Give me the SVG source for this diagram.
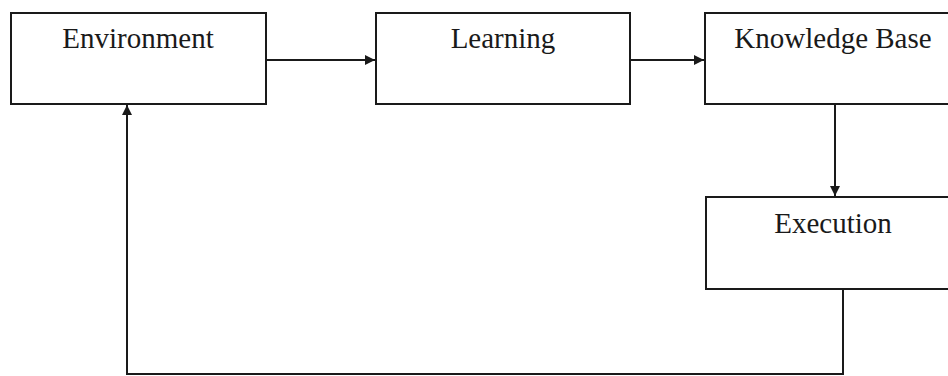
<svg xmlns="http://www.w3.org/2000/svg" width="948" height="376" viewBox="0 0 948 376">
  <style>
    .box { fill: #ffffff; stroke: #1a1a1a; stroke-width: 2; }
    .label { font-family: "Liberation Serif", "Times New Roman", serif; font-size: 29px; fill: #1a1a1a; text-anchor: middle; }
    .wire { fill: none; stroke: #1a1a1a; stroke-width: 2; }
  </style>
  <defs>
    <marker id="arrow" viewBox="0 0 10 10" refX="10" refY="5" markerWidth="6" markerHeight="5" markerUnits="strokeWidth" orient="auto">
      <path d="M0,0 L10,5 L0,10 z" fill="#1a1a1a"/>
    </marker>
  </defs>
  <rect width="948" height="376" fill="#ffffff"/>

  <g id="environment">
    <rect class="box" x="11" y="13" width="255" height="91"/>
    <text class="label" x="138" y="48">Environment</text>
  </g>
  <g id="learning">
    <rect class="box" x="376" y="13" width="254" height="91"/>
    <text class="label" x="503" y="48">Learning</text>
  </g>
  <g id="knowledge-base">
    <rect class="box" x="705" y="13" width="260" height="91"/>
    <text class="label" x="833" y="48">Knowledge Base</text>
  </g>
  <g id="execution">
    <rect class="box" x="706" y="197" width="260" height="92"/>
    <text class="label" x="833" y="233">Execution</text>
  </g>

  <g id="connectors">
    <line class="wire" x1="266" y1="60" x2="375" y2="60" marker-end="url(#arrow)"/>
    <line class="wire" x1="630" y1="60" x2="704" y2="60" marker-end="url(#arrow)"/>
    <line class="wire" x1="835" y1="104" x2="835" y2="196" marker-end="url(#arrow)"/>
    <polyline class="wire" points="843,289 843,374 127,374 127,105" marker-end="url(#arrow)"/>
  </g>
</svg>
